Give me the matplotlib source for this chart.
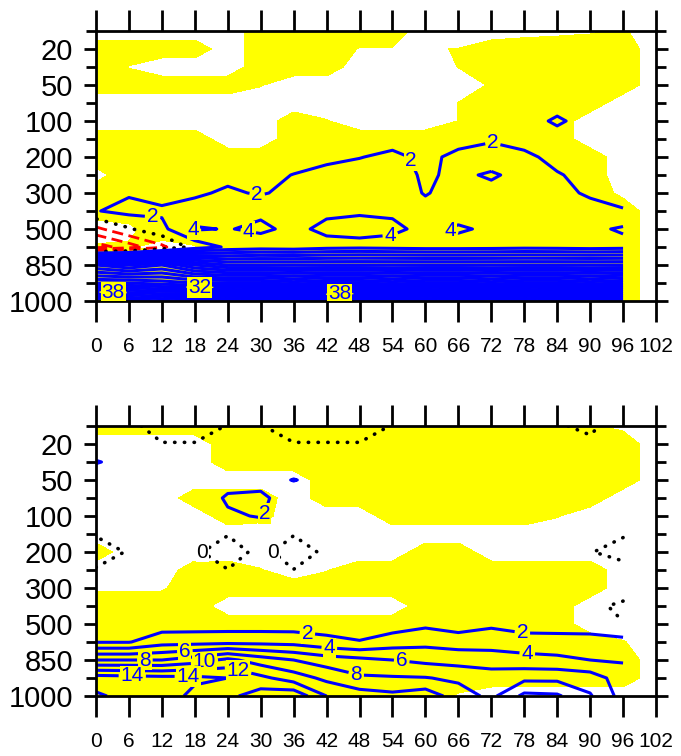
import numpy as np
import matplotlib
matplotlib.use("Agg")
import matplotlib.pyplot as plt

# forecast hour axis and pressure levels (plotted by index, top = 10 hPa)
hours = [0, 6, 12, 18, 24, 30, 36, 42, 48, 54, 60, 66, 72, 78, 84, 90, 96]
hours_shade = hours + [102]
pressure = [10, 20, 30, 50, 70, 100, 150, 200, 250, 300, 400, 500, 700, 850, 925, 1000]
pressure_labels = [20, 50, 100, 200, 300, 500, 850, 1000]
hour_ticks = list(range(0, 103, 6))

# shading mask (1 = yellow), rows = pressure levels, cols = hours_shade
top_shade = [
    [0, 0, 0, 0, 0, 1, 1, 1, 1, 1, 0, 0, 0, 0.2, 0.3, 0.4, 0.6, 0],
    [1, 1, 1, 1, 0, 1, 1, 1, 0.45, 0.45, 0.45, 0.52, 1, 1, 1, 1, 1, 0],
    [1, 0.46, 0, 0, 0, 1, 1, 1, 0, 0, 0, 0.52, 1, 1, 1, 1, 1, 0],
    [1, 1, 1, 1, 1, 0.55, 0, 0, 0, 0, 0, 0, 0.6, 1, 1, 1, 1, 0],
    [0, 0, 0, 0, 0, 0, 0, 0, 0, 0, 0, 0.52, 1, 1, 1, 1, 0, 0],
    [0, 0, 0, 0, 0, 0, 1, 0.55, 0, 0, 0, 0.52, 1, 1, 1, 0, 0, 0],
    [1, 1, 1, 1, 0, 0, 1, 1, 1, 1, 1, 1, 1, 1, 1, 0, 0, 0],
    [1, 1, 1, 1, 1, 1, 1, 1, 1, 1, 1, 1, 1, 1, 1, 1, 0, 0],
    [0.2, 1, 1, 1, 1, 1, 1, 1, 1, 1, 1, 1, 1, 1, 1, 1, 0, 0],
    [1, 1, 1, 1, 1, 1, 1, 1, 1, 1, 1, 1, 1, 1, 1, 1, 0.3, 0],
    [1, 1, 1, 1, 1, 1, 1, 1, 1, 1, 1, 1, 1, 1, 1, 1, 1, 0],
    [0, 0.3, 1, 1, 1, 1, 1, 1, 1, 1, 1, 1, 1, 1, 1, 1, 1, 0],
    [0.6, 0.6, 0.2, 0.45, 1, 1, 1, 1, 1, 1, 1, 1, 1, 1, 1, 1, 1, 0],
    [1, 1, 1, 1, 1, 1, 1, 1, 1, 1, 1, 1, 1, 1, 1, 1, 1, 0],
    [1, 1, 1, 1, 1, 1, 1, 1, 1, 1, 1, 1, 1, 1, 1, 1, 1, 0],
    [1, 1, 1, 1, 1, 1, 1, 1, 1, 1, 1, 1, 1, 1, 1, 1, 1, 0],
]

bot_shade = [
    [1, 1, 1, 1, 1, 1, 1, 1, 1, 1, 1, 1, 1, 1, 1, 0.6, 0.3, 0],
    [0, 0, 0, 0, 1, 1, 1, 1, 1, 1, 1, 1, 1, 1, 1, 1, 1, 0],
    [0, 0, 0, 0, 1, 1, 1, 1, 1, 1, 1, 1, 1, 1, 1, 1, 1, 0],
    [0, 0, 0, 0, 0, 0, 0, 1, 1, 1, 1, 1, 1, 1, 1, 1, 1, 0],
    [0, 0, 0, 1, 1, 1, 0, 1, 1, 1, 1, 1, 1, 1, 1, 1, 0, 0],
    [0, 0, 0, 0, 1, 0.8, 0, 0, 0, 1, 1, 1, 1, 1, 0.55, 0, 0, 0],
    [0, 0, 0, 0, 0, 0, 0, 0, 0, 0, 0, 0, 0, 0, 0, 0, 0, 0],
    [1, 0, 0, 0, 0, 0, 0, 0, 0, 0, 1, 1, 0, 0, 0, 0, 0, 0],
    [0, 0, 0, 1, 1, 0.55, 0, 0.45, 1, 1, 1, 1, 1, 1, 1, 1, 0, 0],
    [0.4, 0.4, 0.4, 1, 1, 1, 1, 1, 1, 1, 1, 1, 1, 1, 1, 1, 0, 0],
    [1, 1, 1, 1, 0, 0, 0, 0, 0, 0, 1, 1, 1, 1, 1, 0, 0, 0],
    [1, 1, 1, 1, 1, 1, 1, 1, 1, 1, 1, 1, 1, 1, 1, 0, 0, 0],
    [1, 1, 1, 1, 1, 1, 1, 1, 1, 1, 1, 1, 1, 1, 1, 1, 0.55, 0],
    [1, 1, 1, 1, 1, 1, 1, 1, 1, 1, 1, 1, 1, 1, 1, 1, 1, 0],
    [1, 1, 1, 1, 1, 1, 1, 1, 1, 1, 1, 1, 1, 1, 1, 1, 1, 0],
    [1, 1, 1, 1, 1, 1, 1, 1, 1, 1, 1, 0.4, 0, 0, 0, 0, 0, 0],
]

# contoured field, rows = pressure levels, cols = hours
top_vals = [
    [1.2, 1.3, 1.2, 1.4, 1.3, 1.2, 1.1, 1.3, 1.4, 1.3, 1.2, 1.3, 1.4, 1.5, 1.4, 1.3, 1.2],
    [1.3, 1.4, 1.3, 1.2, 1.3, 1.4, 1.3, 1.2, 1.3, 1.4, 1.3, 1.4, 1.5, 1.4, 1.3, 1.4, 1.3],
    [1.4, 1.3, 1.2, 1.3, 1.4, 1.3, 1.2, 1.3, 1.4, 1.5, 1.4, 1.3, 1.4, 1.5, 1.4, 1.3, 1.4],
    [1.3, 1.4, 1.3, 1.4, 1.3, 1.2, 1.3, 1.4, 1.3, 1.4, 1.5, 1.4, 1.3, 1.4, 1.5, 1.4, 1.3],
    [1.4, 1.3, 1.4, 1.3, 1.4, 1.3, 1.4, 1.3, 1.4, 1.5, 1.4, 1.5, 1.6, 1.5, 1.6, 1.5, 1.4],
    [1.3, 1.4, 1.3, 1.4, 1.3, 1.4, 1.3, 1.4, 1.5, 1.4, 1.5, 1.6, 1.5, 1.6, 2.15, 1.6, 1.5],
    [1.4, 1.3, 1.4, 1.3, 1.4, 1.3, 1.2, 1.4, 1.6, 1.5, 1.6, 1.6, 1.8, 1.5, 1.6, 1.5, 1.4],
    [1.4, 1.4, 1.3, 1.4, 1.3, 1.4, 1.2, 1.7, 1.95, 2.3, 1.7, 2.3, 2.8, 2.3, 1.6, 1.4, 1.4],
    [1.4, 1.5, 1.3, 1.5, 1.5, 1.5, 2.05, 2.4, 2.6, 2.6, 1.8, 2.3, 1.8, 2.5, 2.1, 1.6, 1.4],
    [1.6, 1.8, 1.3, 1.7, 2.3, 1.8, 2.6, 2.8, 2.9, 2.8, 1.9, 2.6, 2.5, 2.7, 2.4, 1.8, 1.5],
    [1.9, 2.6, 2.3, 2.8, 2.9, 3.6, 3.0, 3.6, 3.8, 3.7, 2.5, 3.0, 2.9, 2.8, 2.7, 2.5, 2.1],
    [-2.5, -0.2, 1.5, 4.2, 3.9, 4.4, 3.5, 4.5, 4.6, 4.4, 3.5, 4.3, 3.6, 3.4, 3.2, 3.5, 4.3],
    [-7, -5, -2.5, 0.8, 2.3, 2.8, 2.6, 3.2, 3.4, 3.2, 3.0, 3.0, 3.1, 3.3, 3.2, 3.0, 3.2],
    [20, 18, 20, 16, 14, 14, 14, 14, 14, 14, 14, 14, 14, 14, 14, 14, 14],
    [30, 30, 29, 28, 28, 28, 27, 28, 28, 27, 28, 28, 27, 28, 28, 27, 28],
    [46, 45, 44, 45, 44, 45, 46, 44, 45, 46, 44, 45, 46, 44, 45, 46, 45],
]

bot_vals = [
    [1.0, 0.3, -0.5, -0.5, 0.05, 0.05, -0.5, -0.5, -0.5, 0.05, 1.0, 1.0, 1.0, 1.0, 0.1, -0.2, 0.5],
    [1.0, 1.0, 0.05, 0.05, 1.0, 1.0, 0.05, 0.05, 0.05, 1.0, 1.0, 1.0, 1.0, 1.0, 1.0, 0.2, 1.0],
    [2.1, 1.5, 1.0, 1.0, 1.0, 1.0, 1.2, 1.0, 1.0, 1.0, 1.0, 1.0, 1.0, 1.0, 1.0, 1.0, 1.0],
    [1.0, 1.0, 1.0, 1.0, 1.4, 1.5, 2.05, 1.6, 1.0, 1.0, 1.0, 1.0, 1.0, 1.0, 1.0, 1.0, 1.0],
    [1.0, 1.0, 1.0, 1.0, 2.2, 2.3, 1.2, 1.0, 1.0, 1.0, 1.0, 1.0, 1.0, 1.0, 1.0, 1.0, 1.0],
    [1.0, 1.0, 1.0, 1.0, 1.8, 2.1, 1.0, 1.0, 1.0, 1.0, 1.0, 1.0, 1.0, 1.0, 1.0, 1.0, 1.0],
    [0.05, 1.0, 1.0, 1.0, 0.05, 1.0, 0.05, 1.0, 1.0, 1.0, 1.0, 1.0, 1.0, 1.0, 1.0, 1.0, 0.1],
    [-0.3, 0.05, 1.0, 0.15, -0.5, 0.3, -0.5, 0.2, 1.0, 1.0, 1.0, 1.0, 1.0, 1.0, 1.0, 0.05, -0.4],
    [0.05, 1.0, 1.0, 1.0, 0.02, 1.0, 0.02, 1.0, 1.0, 1.0, 1.0, 1.0, 1.0, 1.0, 1.0, 1.0, 0.4],
    [1.0, 1.0, 1.0, 1.0, 1.0, 1.0, 1.0, 1.0, 1.0, 1.0, 1.0, 1.0, 1.0, 1.0, 1.0, 1.0, 0.8],
    [1.0, 1.0, 1.0, 1.0, 1.0, 1.0, 1.0, 1.0, 1.0, 1.0, 1.0, 1.0, 1.0, 1.0, 1.0, 0.35, -0.3],
    [1.0, 1.0, 1.0, 1.0, 1.0, 1.0, 1.0, 1.0, 1.0, 1.0, 1.6, 1.0, 1.6, 1.0, 1.0, 1.0, 0.05],
    [1.9, 1.9, 3.2, 3.3, 3.4, 3.4, 3.3, 2.6, 2.1, 3.0, 3.4, 3.1, 3.3, 3.0, 2.9, 2.8, 2.7],
    [8, 8, 8, 9, 10.5, 9, 8, 7, 6.5, 6, 5.5, 5.2, 4.8, 4.6, 4.4, 4.0, 3.8],
    [15, 14.8, 14.6, 14.5, 14, 12.5, 11, 9.5, 8.3, 8.2, 8.1, 7.6, 7.2, 7.5, 7.5, 7.0, 5.0],
    [16.3, 15.4, 15.6, 13.2, 13.5, 15, 15.5, 12, 11, 10.5, 11.2, 9, 7.5, 10.5, 10.3, 8.2, 5.2],
]

# where the line labels sit: (hour, level index) per contour value
top_label_spots = {
    2: [(29.3, 9.2), (58.1, 7.1), (72.3, 6.2), (10.2, 10.7)],
    4: [(17.5, 11.2), (27.7, 11.2), (53.6, 11.3), (64.5, 11.2)],
    32: [(18.9, 14.4)],
    38: [(3.1, 14.7), (44.4, 14.7)],
}
bot_label_spots = {
    0: [(18.9, 7.1), (30.8, 7.1)],
    2: [(30.2, 4.8), (38.5, 11.5), (77.6, 11.6)],
    4: [(42.5, 12.3), (78.5, 12.9)],
    6: [(16.2, 12.6), (55.7, 13.0)],
    8: [(8.9, 13.2), (47.7, 13.4)],
    10: [(19.8, 13.2)],
    12: [(26.0, 13.4)],
    14: [(6.6, 14.0), (16.8, 13.8)],
}

plt.rcParams['font.family'] = ['Liberation Sans', 'DejaVu Sans']

BLUE = '#0000ff'
YELLOW = '#ffff00'


def zero_line(ax, y, vals):
    cs = ax.contour(hours, y, vals, levels=[0], colors='black',
                    linewidths=2.6, linestyles=[(0, (0.1, 2.6))])
    cs.set_capstyle('round')
    return cs


def draw_panel(ax, vals, shade, label_spots):
    y = np.arange(len(pressure))
    vals = np.array(vals, dtype=float)
    shade = np.array(shade, dtype=float)

    ax.contourf(hours_shade, y, shade, levels=[0.5, 10], colors=[YELLOW])

    neg = np.arange(-20, -1, 2)
    plain = [l for l in range(2, 60, 2) if l not in label_spots]
    ax.contour(hours, y, vals, levels=neg, colors='red', linewidths=2.0,
               linestyles=[(0, (4, 2))])
    ax.contour(hours, y, vals, levels=plain, colors=BLUE, linewidths=2.2)
    if 0 not in label_spots:
        zero_line(ax, y, vals)

    # labelled levels get their own contour set so clabel can place them
    for lev, spots in label_spots.items():
        if lev == 0:
            cs = zero_line(ax, y, vals)
            col, bg = 'black', 'white'
        else:
            cs = ax.contour(hours, y, vals, levels=[lev], colors=BLUE, linewidths=2.2)
            col, bg = BLUE, YELLOW
        texts = ax.clabel(cs, fmt='%d', fontsize=15, colors=col,
                          inline=True, inline_spacing=2, manual=spots)
        for t in texts:
            t.set_rotation(0)
            t.set_zorder(6)
            t.set_bbox(dict(facecolor=bg, edgecolor='none', pad=0.6))

    ax.set_xlim(0, 102)
    ax.set_ylim(len(pressure) - 1, 0)
    ax.set_xticks(hour_ticks)
    ax.set_xticklabels([str(h) for h in hour_ticks], fontsize=15)
    major = [pressure.index(p) for p in pressure_labels]
    minor = [i for i in range(len(pressure)) if i not in major]
    ax.set_yticks(major)
    ax.set_yticklabels([str(p) for p in pressure_labels], fontsize=21)
    ax.set_yticks(minor, minor=True)

    ax.tick_params(axis='x', which='major', direction='out', length=15, width=2,
                   top=True, bottom=True, pad=11)
    ax.tick_params(axis='y', which='major', direction='out', length=8.5, width=2,
                   left=True, right=True, pad=8)
    ax.tick_params(axis='y', which='minor', direction='out', length=7, width=2,
                   left=True, right=True)
    for s in ax.spines.values():
        s.set_linewidth(2)


fig = plt.figure(figsize=(6.81, 7.56), dpi=100)
ax1 = fig.add_axes([96 / 681, 1 - 301 / 756, 560 / 681, 270 / 756])
ax2 = fig.add_axes([96 / 681, 1 - 696 / 756, 560 / 681, 270 / 756])

draw_panel(ax1, top_vals, top_shade, top_label_spots)
draw_panel(ax2, bot_vals, bot_shade, bot_label_spots)

fig.savefig('out.png', dpi=100)
